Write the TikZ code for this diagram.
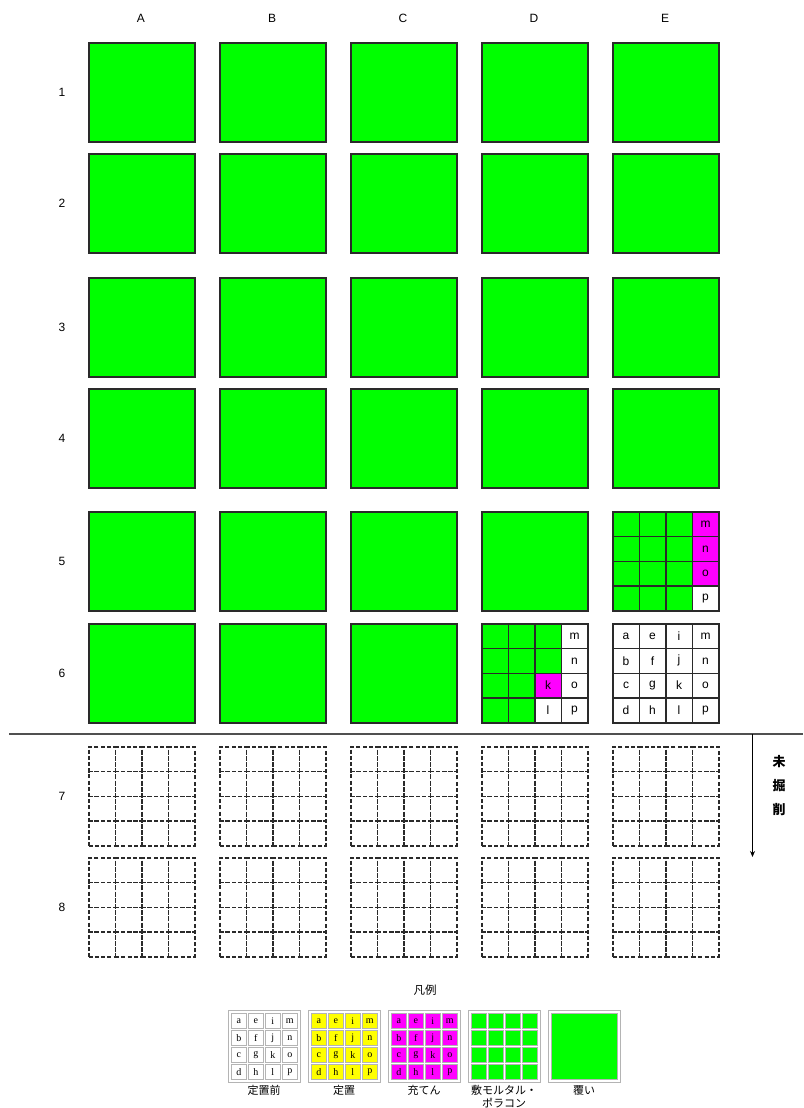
\documentclass[tikz,border=0pt]{standalone}
\usepackage{fontspec}
\setmainfont{Liberation Sans}
\newfontfamily\jpfont{Noto Sans CJK JP}
\newfontfamily\legserif{Liberation Serif}
\usetikzlibrary{arrows.meta}
\definecolor{gfill}{HTML}{00FF00}
\definecolor{mfill}{HTML}{FF00FF}
\definecolor{yfill}{HTML}{FFFF00}
\definecolor{edgec}{HTML}{2A2A2A}
\definecolor{legedge}{HTML}{B4B4B4}
\definecolor{sepc}{HTML}{505050}
\begin{document}
\begin{tikzpicture}[x=1pt,y=-1pt,
  bigbox/.style={draw=edgec, line width=1.7pt, fill=gfill, minimum width=106pt, minimum height=99pt, inner sep=0pt, anchor=north west},
  cellbox/.style={draw=edgec, line width=1.5pt, minimum width=26.5pt, minimum height=24.75pt, inner sep=0pt, anchor=north west, font=\fontsize{12}{12}\selectfont},
  dashcell/.style={draw=edgec, line width=1.5pt, dash pattern=on 4pt off 2.2pt, minimum width=26.5pt, minimum height=24.75pt, inner sep=0pt, anchor=north west},
  collabel/.style={font=\fontsize{12}{12}\selectfont},
  rowlabel/.style={font=\fontsize{12}{12}\selectfont},
  sepline/.style={draw=sepc, line width=2pt},
  downarrow/.style={draw=black, line width=1.2pt, -{Stealth[length=6pt,width=5pt]}},
  vlabel/.style={font=\jpfont\bfseries\fontsize{13}{13}\selectfont},
  legtitle/.style={font=\jpfont\fontsize{11.5}{12}\selectfont},
  legouter/.style={draw=legedge, line width=1.4pt, minimum width=72pt, minimum height=72pt, inner sep=0pt, anchor=north west},
  legcell/.style={draw=legedge, line width=1pt, minimum width=15.5pt, minimum height=15.5pt, inner sep=0pt, anchor=north west, font=\legserif\fontsize{10}{10}\selectfont},
  legtext/.style={font=\jpfont\fontsize{11}{12.5}\selectfont, align=center, anchor=north, inner sep=0pt}
]
\useasboundingbox (0,0) rectangle (803,1108);

% column and row labels
\foreach \c/\x in {A/88,B/219,C/350,D/481,E/612}
  \node[collabel] (lab\c) at (\x+53,18) {\c};
\foreach \r/\y in {1/42,2/153,3/277,4/388,5/511,6/623,7/746,8/857}
  \node[rowlabel] (row\r) at (62,\y+50) {\r};

% full green boxes
\foreach \c/\x in {A/88,B/219,C/350,D/481,E/612}
  \foreach \r/\y in {1/42,2/153,3/277,4/388}
    \node[bigbox] (\c\r) at (\x,\y) {};
\foreach \c/\x in {A/88,B/219,C/350,D/481}
  \node[bigbox] (\c5) at (\x,511) {};
\foreach \c/\x in {A/88,B/219,C/350}
  \node[bigbox] (\c6) at (\x,623) {};

% E5 cells
\foreach \j/\k/\f/\t in {0/0/gfill/,0/1/gfill/,0/2/gfill/,0/3/gfill/,
                         1/0/gfill/,1/1/gfill/,1/2/gfill/,1/3/gfill/,
                         2/0/gfill/,2/1/gfill/,2/2/gfill/,2/3/gfill/,
                         3/0/mfill/m,3/1/mfill/n,3/2/mfill/o,3/3/white/p}
  \node[cellbox, fill=\f] (E5c\j\k) at (612+\j*26.5,511+\k*24.75) {\t};

% D6 cells
\foreach \j/\k/\f/\t in {0/0/gfill/,0/1/gfill/,0/2/gfill/,0/3/gfill/,
                         1/0/gfill/,1/1/gfill/,1/2/gfill/,1/3/gfill/,
                         2/0/gfill/,2/1/gfill/,2/2/mfill/k,2/3/white/l,
                         3/0/white/m,3/1/white/n,3/2/white/o,3/3/white/p}
  \node[cellbox, fill=\f] (D6c\j\k) at (481+\j*26.5,623+\k*24.75) {\t};

% E6 cells
\foreach \j/\k/\t in {0/0/a,0/1/b,0/2/c,0/3/d,
                      1/0/e,1/1/f,1/2/g,1/3/h,
                      2/0/i,2/1/j,2/2/k,2/3/l,
                      3/0/m,3/1/n,3/2/o,3/3/p}
  \node[cellbox, fill=white] (E6c\j\k) at (612+\j*26.5,623+\k*24.75) {\t};

% separator and arrow
\coordinate (sepL) at (9,734);
\coordinate (sepR) at (803,734);
\draw[sepline] (sepL) -- (sepR);
\coordinate (arrS) at (752.5,734);
\coordinate (arrE) at (752.5,857);
\draw[downarrow] (arrS) -- (arrE);
\node[vlabel] (v1) at (779,762) {未};
\node[vlabel] (v2) at (779,786) {掘};
\node[vlabel] (v3) at (779,810) {削};

% dashed grids rows 7 and 8
\foreach \c/\x in {A/88,B/219,C/350,D/481,E/612}
  \foreach \r/\y in {7/746,8/857}
    \foreach \j in {0,1,2,3}
      \foreach \k in {0,1,2,3}
        \node[dashcell] (\c\r c\j\k) at (\x+\j*26.5,\y+\k*24.75) {};

% legend
\node[legtitle] (legT) at (425,990) {凡例};
\foreach \n/\x in {L1/228,L2/308,L3/388,L4/468,L5/548}
  \node[legouter] (\n) at (\x,1010) {};
\foreach \n/\x/\f in {L1/228/white,L2/308/yfill,L3/388/mfill}
  \foreach \j/\k/\t in {0/0/a,0/1/b,0/2/c,0/3/d,
                        1/0/e,1/1/f,1/2/g,1/3/h,
                        2/0/i,2/1/j,2/2/k,2/3/l,
                        3/0/m,3/1/n,3/2/o,3/3/p}
    \node[legcell, fill=\f] (\n c\j\k) at (\x+2.5+\j*17,1012.5+\k*17) {\t};
\foreach \j in {0,1,2,3}
  \foreach \k in {0,1,2,3}
    \node[legcell, fill=gfill] (L4c\j\k) at (468+2.5+\j*17,1012.5+\k*17) {};
\node[legcell, fill=gfill, minimum width=66.5pt, minimum height=66.5pt] (L5c) at (550.5,1012.5) {};

\node[legtext] (t1) at (264,1085) {定置前};
\node[legtext] (t2) at (344,1085) {定置};
\node[legtext] (t3) at (424,1085) {充てん};
\node[legtext] (t4) at (504,1085) {敷モルタル・\\ポラコン};
\node[legtext] (t5) at (584,1085) {覆い};
\end{tikzpicture}
\end{document}
